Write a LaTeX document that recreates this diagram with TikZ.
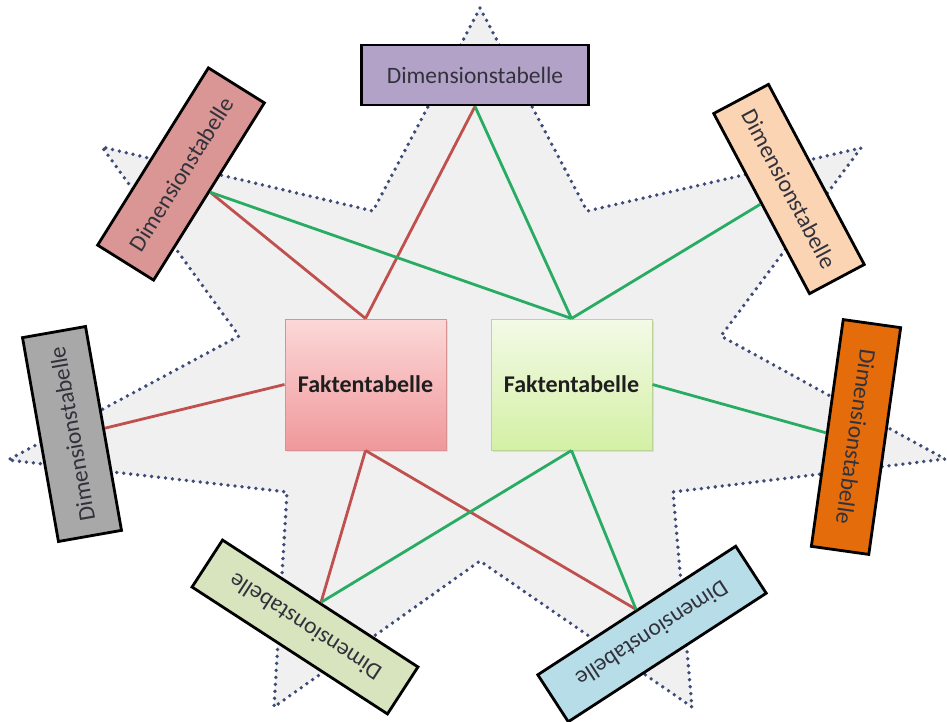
\documentclass[tikz,border=0pt]{standalone}
\usepackage{fontspec}
\setmainfont{Carlito}
\usetikzlibrary{shadows}

\definecolor{starfill}{RGB}{240,240,240}
\definecolor{stardots}{RGB}{62,74,120}
\definecolor{redlink}{RGB}{192,80,77}
\definecolor{greenlink}{RGB}{40,172,100}
\definecolor{dimpurple}{RGB}{179,162,199}
\definecolor{dimrose}{RGB}{217,150,148}
\definecolor{dimpeach}{RGB}{251,212,180}
\definecolor{dimgray}{RGB}{168,168,168}
\definecolor{dimorange}{RGB}{228,108,10}
\definecolor{dimolive}{RGB}{215,228,189}
\definecolor{dimaqua}{RGB}{183,221,232}
\definecolor{dimtext}{RGB}{50,50,60}

\tikzset{
  dimbox/.style={draw=black, line width=2.8pt, inner sep=0pt,
    text=dimtext, font=\fontsize{23.5}{27}\selectfont},
  factbox/.style={line width=1pt, inner sep=0pt, minimum width=161, minimum height=131,
    font=\bfseries\fontsize{24}{28}\selectfont, text={rgb,255:red,30;green,30;blue,30},
    drop shadow={opacity=0.18, shadow xshift=1.5pt, shadow yshift=-1.5pt}},
  redline/.style={draw=redlink, line width=2.8pt},
  greenline/.style={draw=greenlink, line width=2.8pt},
}

\begin{document}
\begin{tikzpicture}[x=1pt, y=-1pt]
\useasboundingbox (0,0) rectangle (947,722);

% seven-pointed star in the background
\path[fill=starfill, draw=stardots, line width=3.8pt, line cap=round,
      dash pattern=on 0pt off 7pt]
  (480,8) -- (587,211) -- (861,148) -- (721,336) -- (945,459) -- (673,492)
  -- (692,707) -- (480,561) -- (274,707) -- (287,492) -- (8,460)
  -- (239,336) -- (102,147) -- (373,211) -- cycle;

% fact tables
\node[factbox, draw={rgb,255:red,218;green,145;blue,145},
      top color={rgb,255:red,252;green,216;blue,216},
      bottom color={rgb,255:red,240;green,152;blue,155}]
  (fakt1) at (365.5,384.5) {Faktentabelle};
\node[factbox, draw={rgb,255:red,188;green,212;blue,152},
      top color={rgb,255:red,243;green,250;blue,230},
      bottom color={rgb,255:red,212;green,240;blue,165}]
  (fakt2) at (571.5,384.5) {Faktentabelle};

% dimension tables
\node[dimbox, fill=dimpurple, minimum width=227, minimum height=60]
  (dtop) at (475,75) {Dimensionstabelle};
\node[dimbox, fill=dimrose, rotate=58, minimum width=209, minimum height=66]
  (dul) at (181,174) {Dimensionstabelle};
\node[dimbox, fill=dimpeach, rotate=-62, minimum width=204, minimum height=62]
  (dur) at (789,189) {Dimensionstabelle};
\node[dimbox, fill=dimgray, rotate=100, minimum width=207, minimum height=64]
  (dl) at (72,434) {Dimensionstabelle};
\node[dimbox, fill=dimorange, rotate=-98, minimum width=229, minimum height=58]
  (dr) at (856,437) {Dimensionstabelle};
\node[dimbox, fill=dimolive, rotate=147, minimum width=233, minimum height=56]
  (dbl) at (305,627) {Dimensionstabelle};
\node[dimbox, fill=dimaqua, rotate=213, minimum width=236, minimum height=56]
  (dbr) at (652,634) {Dimensionstabelle};

% links of the first fact table
\draw[redline] (fakt1.north) -- (dtop.south);
\draw[redline] (fakt1.north) -- (dul.south);
\draw[redline] (fakt1.west) -- (dl.south);
\draw[redline] (fakt1.south) -- (dbl.south);
\draw[redline] (fakt1.south) -- (dbr.south);
% links of the second fact table
\draw[greenline] (fakt2.north) -- (dtop.south);
\draw[greenline] (fakt2.north) -- (dul.south);
\draw[greenline] (fakt2.north) -- (dur.south);
\draw[greenline] (fakt2.east) -- (dr.south);
\draw[greenline] (fakt2.south) -- (dbl.south);
\draw[greenline] (fakt2.south) -- (dbr.south);
\end{tikzpicture}
\end{document}
